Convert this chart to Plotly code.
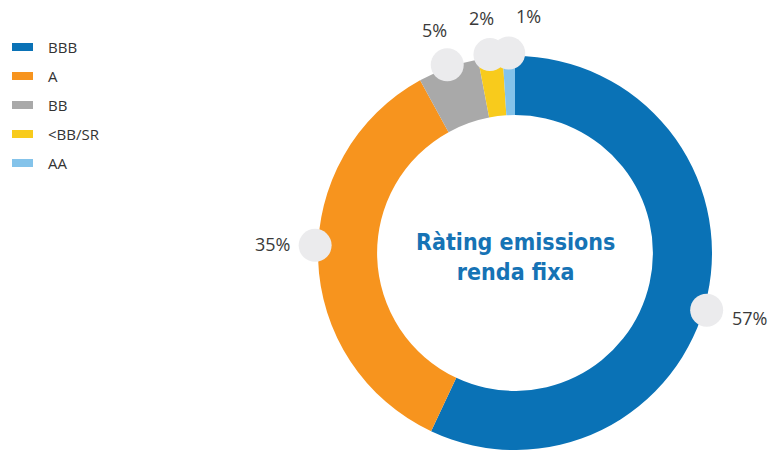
import math
import plotly.graph_objects as go

# ---- data ----
categories = ["BBB", "A", "BB", "<BB/SR", "AA"]
values = [57, 35, 5, 2, 1]
labels = ["57%", "35%", "5%", "2%", "1%"]
title_text = "Ràting emissions<br>renda fixa"

# ---- style ----
colors = ["#0A72B6", "#F7941E", "#A9A9A9", "#F8CB1C", "#84C3EA"]
circle_nudge = [4, 4, 0, 0, 0]     # degrees
label_nudge = [3, 4, 0, -1, 5]     # degrees
label_dr = [46, 46, 40, 40, 40]    # px beyond outer radius
W, H = 770, 450
cx, cy, R = 515, 253, 197
hole = 0.7


def X(px):
    return px / W


def Y(py):
    return 1 - py / H


fig = go.Figure()
fig.add_trace(go.Pie(
    labels=categories, values=values, hole=hole, sort=False,
    direction="clockwise", rotation=0,
    marker=dict(colors=colors, line=dict(width=0)),
    textinfo="none", hoverinfo="label+percent", showlegend=False,
    domain=dict(x=[X(cx - R), X(cx + R)], y=[Y(cy + R), Y(cy - R)]),
))

shapes = []
annotations = []
total = sum(values)
cum = 0
for i, v in enumerate(values):
    mid = 360 * (cum + v / 2) / total
    cum += v
    th = math.radians(mid + circle_nudge[i])
    rc = R + 3
    px, py = cx + rc * math.sin(th), cy - rc * math.cos(th)
    cr = 16.5
    shapes.append(dict(type="circle", xref="paper", yref="paper",
                       x0=X(px - cr), x1=X(px + cr), y0=Y(py + cr), y1=Y(py - cr),
                       fillcolor="#EBEBED", line=dict(width=0), layer="above"))
    tl = math.radians(mid + label_nudge[i])
    rl = R + label_dr[i]
    lx, ly = cx + rl * math.sin(tl), cy - rl * math.cos(tl)
    annotations.append(dict(x=X(lx), y=Y(ly), xref="paper", yref="paper",
                            text=labels[i], showarrow=False,
                            xanchor="center", yanchor="middle",
                            font=dict(family="Open Sans, Arial, sans-serif", size=18,
                                      color="#3A3A3A")))

# custom legend
row0, step = 47, 29
for i, c in enumerate(categories):
    ry = row0 + i * step
    shapes.append(dict(type="rect", xref="paper", yref="paper",
                       x0=X(12), x1=X(33), y0=Y(ry + 4), y1=Y(ry - 4),
                       fillcolor=colors[i], line=dict(width=0)))
    annotations.append(dict(x=X(46), y=Y(ry), xref="paper", yref="paper",
                            text=c, showarrow=False, xanchor="left", yanchor="middle",
                            font=dict(family="Open Sans, Arial, sans-serif", size=15,
                                      color="#333333")))

# center title
annotations.append(dict(x=X(cx), y=Y(cy + 4), xref="paper", yref="paper",
                        text="<b>" + title_text + "</b>", showarrow=False,
                        xanchor="center", yanchor="middle",
                        font=dict(family="DejaVu Sans Condensed, Liberation Sans Narrow, Arial Narrow, sans-serif",
                                  size=23, color="#1673B5")))

fig.update_layout(
    width=W, height=H,
    margin=dict(l=0, r=0, t=0, b=0),
    paper_bgcolor="white", plot_bgcolor="white",
    shapes=shapes, annotations=annotations,
)

fig.write_html("out.html", config={"displayModeBar": False},
               post_script="document.body.style.margin='0';")
